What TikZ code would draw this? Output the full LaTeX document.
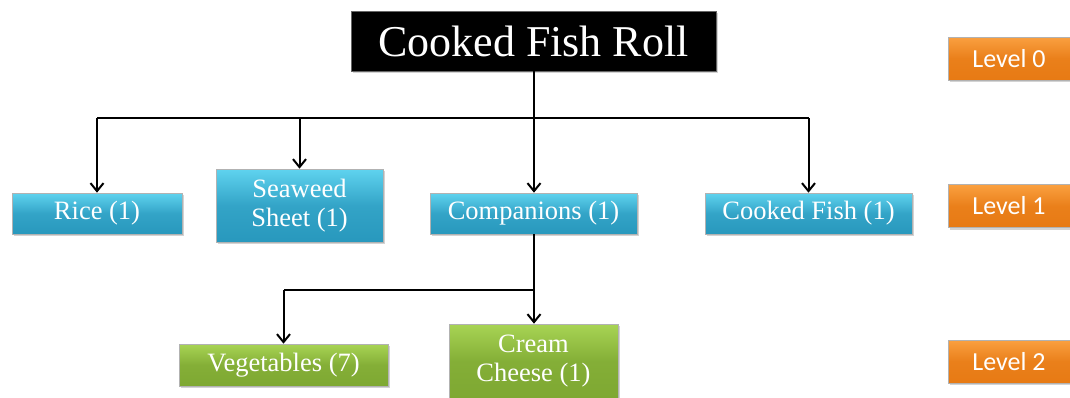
\documentclass[tikz,border=0pt]{standalone}
\usepackage{fontspec}
\setmainfont{Liberation Serif}
\newfontfamily\lvlfont{Carlito}
\usetikzlibrary{arrows.meta,shadows}
\definecolor{bluetop}{HTML}{5FD3EF}
\definecolor{bluebot}{HTML}{2898BD}
\definecolor{greentop}{HTML}{A8D454}
\definecolor{greenbot}{HTML}{7EA832}
\definecolor{orangetop}{HTML}{FAA040}
\definecolor{orangebot}{HTML}{E77A14}
\tikzset{
  box/.style={draw=black!30, line width=0.6pt, text=white, align=center, inner sep=0pt,
    drop shadow={shadow xshift=2pt, shadow yshift=-2pt, opacity=0.35}},
  bluebox/.style={box, top color=bluetop, bottom color=bluebot, middle color=bluebot!80!bluetop,
    font=\fontsize{26.5}{27}\selectfont},
  greenbox/.style={box, top color=greentop, bottom color=greenbot, middle color=greenbot!85!greentop,
    font=\fontsize{26.5}{27}\selectfont},
  lvlbox/.style={box, top color=orangetop, bottom color=orangebot, middle color=orangebot!85!orangetop,
    font=\lvlfont\fontsize{26}{27}\selectfont, minimum width=122pt, minimum height=43pt},
  conn/.style={line width=2pt, black},
  arr/.style={conn, -{Straight Barb[length=8pt,width=13pt,line width=2pt]}}
}
\begin{document}
\begin{tikzpicture}[x=1pt,y=-1pt]
\useasboundingbox (0,0) rectangle (1070,397);
% root
\node[fill=black, draw=black!60, text=white, inner sep=0pt, minimum width=365pt, minimum height=60pt,
  font=\fontsize{44}{46}\selectfont, drop shadow={shadow xshift=2pt, shadow yshift=-2pt, opacity=0.35}]
  (root) at (533.5,41) {Cooked Fish Roll};
% level 1
\node[bluebox, minimum width=170pt, minimum height=41pt] (rice) at (97,213.5) {Rice (1)};
\node[bluebox, minimum width=167pt, minimum height=73pt] (sea) at (299.5,205.5) {Seaweed\\[2pt]Sheet (1)};
\node[bluebox, minimum width=207pt, minimum height=41pt] (comp) at (533.5,213.5) {Companions (1)};
\node[bluebox, minimum width=207pt, minimum height=41pt] (fish) at (808.5,213.5) {Cooked Fish (1)};
% level 2
\node[greenbox, minimum width=209pt, minimum height=42pt] (veg) at (283.5,365) {Vegetables (7)};
\node[greenbox, minimum width=169pt, minimum height=74pt] (cream) at (533.5,361) {Cream\\[2pt]Cheese (1)};
% levels
\node[lvlbox] (l0) at (1009,58.5) {Level 0};
\node[lvlbox] (l1) at (1009,206) {Level 1};
\node[lvlbox] (l2) at (1009,361.5) {Level 2};
% connectors
\coordinate (j1) at (534,118);
\coordinate (j2) at (534,290);
\draw[conn] (root.south -| j1) -- (j1);
\draw[conn] (j1 -| rice.north) -- (j1 -| fish.north);
\draw[arr] (j1 -| rice.north) -- (rice.north);
\draw[arr] (j1 -| sea.north) -- (sea.north);
\draw[arr] (j1) -- (comp.north -| j1);
\draw[arr] (j1 -| fish.north) -- (fish.north);
\draw[conn] (comp.south -| j2) -- (j2);
\draw[conn] (j2) -- (j2 -| veg.north);
\draw[arr] (j2 -| veg.north) -- (veg.north);
\draw[arr] (j2) -- (cream.north -| j2);
\end{tikzpicture}
\end{document}
